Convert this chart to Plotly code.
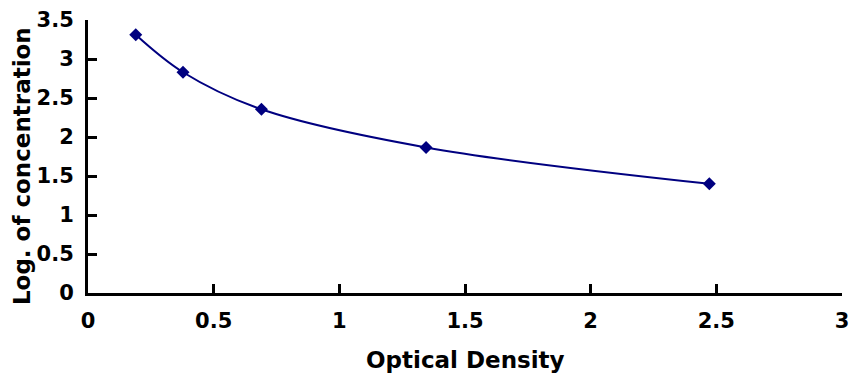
import plotly.graph_objects as go

optical_density = [0.19, 0.378, 0.69, 1.345, 2.472]
log_concentration = [3.31, 2.83, 2.355, 1.866, 1.40]

x_ticks = [0, 0.5, 1, 1.5, 2, 2.5, 3]
x_tick_labels = ["0", "0.5", "1", "1.5", "2", "2.5", "3"]
y_ticks = [0, 0.5, 1, 1.5, 2, 2.5, 3, 3.5]
y_tick_labels = ["0", "0.5", "1", "1.5", "2", "2.5", "3", "3.5"]

font_family = "DejaVu Sans"

fig = go.Figure()
fig.add_trace(go.Scatter(
    x=optical_density, y=log_concentration,
    mode="lines+markers",
    line=dict(color="#000080", width=2, shape="spline", smoothing=1),
    marker=dict(symbol="diamond", size=10, color="#000080"),
    showlegend=False,
))

axis_common = dict(
    showline=True, linecolor="black", linewidth=3,
    ticks="inside", ticklen=9, tickwidth=3, tickcolor="black",
    showgrid=False, zeroline=False, automargin=False,
    tickfont=dict(family=font_family, size=21, color="black", weight="bold"),
)

fig.update_xaxes(
    range=[0, 3], tickvals=x_ticks, ticktext=x_tick_labels,
    ticklabelstandoff=7,
    **axis_common,
)
fig.update_yaxes(
    range=[0, 3.5], tickvals=y_ticks, ticktext=y_tick_labels,
    ticklabelstandoff=7,
    **axis_common,
)

fig.add_annotation(
    text="<b>Optical Density</b>", xref="paper", yref="paper",
    x=0.5, y=-0.245, xanchor="center", yanchor="middle", showarrow=False,
    font=dict(family=font_family, size=23, color="black"),
)
fig.add_annotation(
    text="<b>Log. of concentration</b>", xref="paper", yref="paper",
    x=-0.0875, y=0.465, xanchor="center", yanchor="middle", showarrow=False,
    textangle=-90,
    font=dict(family=font_family, size=23, color="black"),
)

fig.update_layout(
    width=850, height=370,
    margin=dict(l=80, r=16, t=12, b=85),
    paper_bgcolor="white", plot_bgcolor="white",
)

fig.write_html("out.html")
